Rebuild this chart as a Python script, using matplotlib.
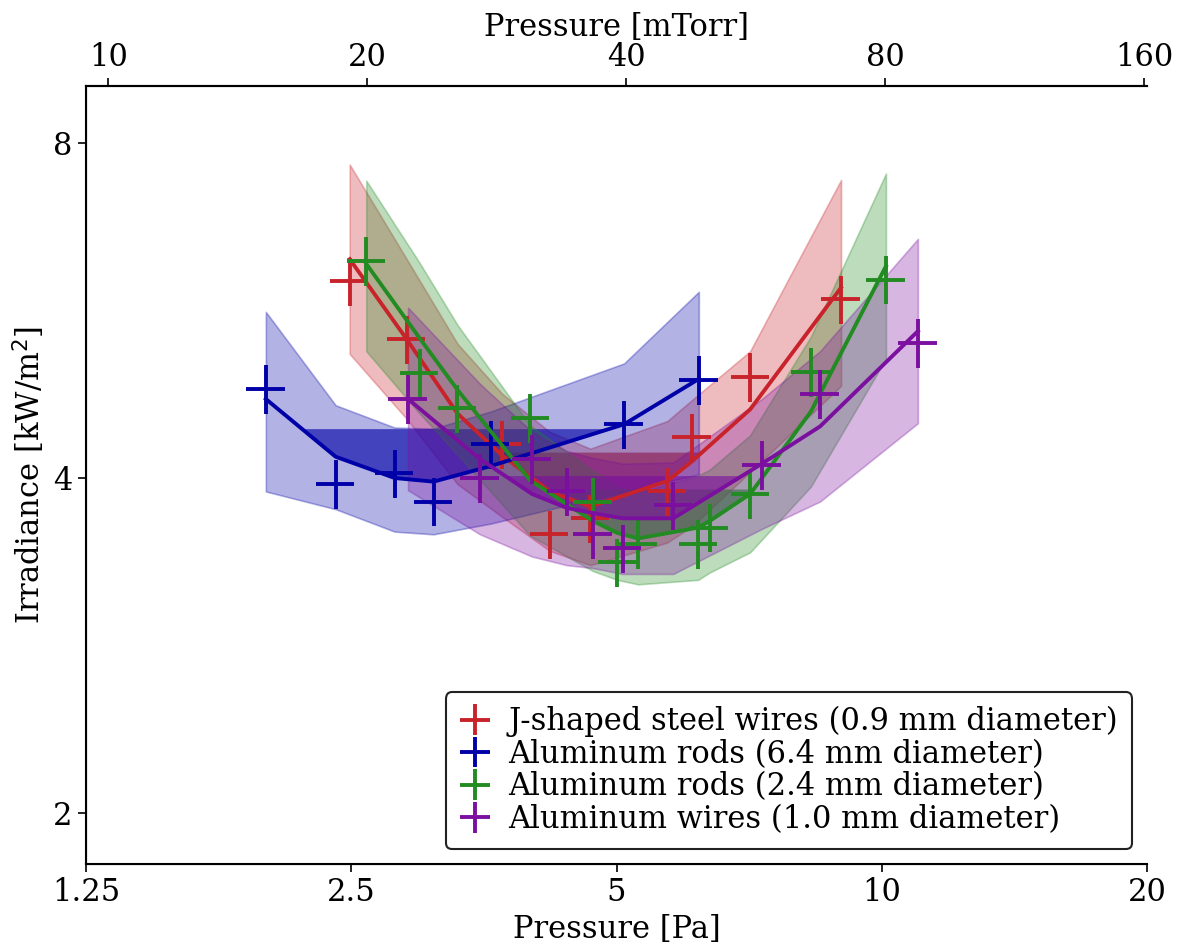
import numpy as np
import matplotlib
matplotlib.use("Agg")
import matplotlib.pyplot as plt
from matplotlib.ticker import FixedLocator, NullLocator, FixedFormatter

plt.rcParams['font.family'] = 'DejaVu Serif'
plt.rcParams['font.size'] = 22

# --- J-shaped steel wires (0.9 mm) ---
red_p = [2.49, 2.89, 3.30, 3.71, 4.20, 4.67, 5.71, 6.09, 7.09, 8.99]
red_q = [6.01, 5.33, 4.62, 4.29, 3.56, 3.68, 3.89, 4.35, 4.93, 5.79]
red_fit = [6.29, 5.33, 4.57, 4.19, 3.89, 3.77, 3.975, 4.14, 4.61, 5.93]
red_hi = [7.65, 6.29, 5.28, 4.76, 4.40, 4.25, 4.50, 4.70, 5.20, 7.41]
red_lo = [5.17, 4.52, 3.95, 3.69, 3.44, 3.34, 3.50, 3.62, 4.05, 4.84]
red_lvl = 4.22

# --- Aluminum rods (6.4 mm) ---
blue_p = [2.00, 2.40, 2.80, 3.10, 3.60, 5.10, 6.20]
blue_q = [4.81, 3.95, 4.04, 3.81, 4.29, 4.47, 4.90]
blue_fit = [4.71, 4.18, 4.00, 3.97, 4.10, 4.47, 4.91]
blue_hi = [5.64, 4.65, 4.44, 4.43, 4.59, 5.07, 5.88]
blue_lo = [3.89, 3.75, 3.58, 3.56, 3.64, 3.89, 4.03]
blue_lvl = 4.43

# --- Aluminum rods (2.4 mm) ---
green_p = [2.60, 2.99, 3.30, 3.99, 4.70, 5.01, 5.29, 6.19, 6.38, 7.09, 8.31, 10.11]
green_q = [6.27, 4.97, 4.62, 4.53, 3.81, 3.36, 3.49, 3.49, 3.61, 3.87, 4.98, 6.03]
green_fit = [6.23, 5.34, 4.80, 3.98, 3.66, 3.57, 3.53, 3.61, 3.66, 3.87, 4.59, 6.20]
green_hi = [7.40, 6.24, 5.49, 4.46, 4.06, 3.93, 3.88, 4.02, 4.07, 4.37, 5.36, 7.51]
green_lo = [5.20, 4.57, 4.20, 3.55, 3.30, 3.24, 3.21, 3.24, 3.29, 3.43, 3.93, 5.12]
green_lvl = 3.91

# --- Aluminum wires (1.0 mm) ---
purple_p = [2.90, 3.50, 4.01, 4.39, 4.70, 5.08, 5.80, 7.31, 8.51, 10.99]
purple_q = [4.71, 4.00, 4.16, 3.89, 3.56, 3.46, 3.78, 4.11, 4.76, 5.29]
purple_fit = [4.71, 4.16, 3.87, 3.76, 3.72, 3.68, 3.68, 4.12, 4.45, 5.42]
purple_hi = [5.69, 4.86, 4.40, 4.23, 4.17, 4.12, 4.13, 4.71, 5.20, 6.56]
purple_lo = [3.90, 3.56, 3.40, 3.34, 3.32, 3.28, 3.28, 3.60, 3.81, 4.48]
purple_lvl = 4.02

labels = ['J-shaped steel wires (0.9 mm diameter)',
          'Aluminum rods (6.4 mm diameter)',
          'Aluminum rods (2.4 mm diameter)',
          'Aluminum wires (1.0 mm diameter)']
colors = ['#c8232b', '#0000a8', '#228b22', '#7b0f9f']
rel_err = 0.05

series = [
    (red_p, red_q, red_fit, red_hi, red_lo, red_lvl),
    (blue_p, blue_q, blue_fit, blue_hi, blue_lo, blue_lvl),
    (green_p, green_q, green_fit, green_hi, green_lo, green_lvl),
    (purple_p, purple_q, purple_fit, purple_hi, purple_lo, purple_lvl),
]

fig = plt.figure(figsize=(11.84, 9.46), dpi=100)
ax = fig.add_axes([0.0726, 0.0867, 0.8962, 0.8224])
ax.set_xscale('log')
ax.set_yscale('log')

for (p, q, fit, hi, lo, lvl), col, lab in zip(series, colors, labels):
    p = np.array(p); q = np.array(q); fit = np.array(fit)
    ax.fill_between(p, lo, hi, color=col, alpha=0.3, lw=1.2)
    ax.fill_between(p, fit, lvl, where=fit < lvl, interpolate=True,
                    color=col, alpha=0.62, lw=0)
    ax.plot(p, fit, color=col, lw=2.8)
    ax.errorbar(p, q, xerr=rel_err * p, yerr=rel_err * q, fmt='none',
                ecolor=col, elinewidth=2.8, capsize=0, label=lab)

ax.set_xlim(1.25, 20)
ax.set_ylim(1.8, 9.0)
xt = [1.25, 2.5, 5, 10, 20]
ax.xaxis.set_major_locator(FixedLocator(xt))
ax.xaxis.set_major_formatter(FixedFormatter(['1.25', '2.5', '5', '10', '20']))
ax.xaxis.set_minor_locator(NullLocator())
yt = [2, 4, 8]
ax.yaxis.set_major_locator(FixedLocator(yt))
ax.yaxis.set_major_formatter(FixedFormatter(['2', '4', '8']))
ax.yaxis.set_minor_locator(NullLocator())
ax.tick_params(length=6, width=1.2)
ax.spines['right'].set_visible(False)
for s in ['left', 'bottom', 'top']:
    ax.spines[s].set_linewidth(1.5)
ax.set_xlabel('Pressure [Pa]')
ax.set_ylabel('Irradiance [kW/m$^2$]')

top = ax.twiny()
top.set_xscale('log')
top.set_xlim(9.42, 161.1)
tt = [10, 20, 40, 80, 160]
top.xaxis.set_major_locator(FixedLocator(tt))
top.xaxis.set_major_formatter(FixedFormatter([str(t) for t in tt]))
top.xaxis.set_minor_locator(NullLocator())
top.tick_params(length=6, width=1.2)
top.spines['right'].set_visible(False)
top.spines['top'].set_linewidth(1.5)
top.set_xlabel('Pressure [mTorr]')

leg = ax.legend(loc='lower right', fontsize=22, framealpha=1,
                edgecolor='#222222', handlelength=1.0, handletextpad=0.6,
                labelspacing=0.05, borderpad=0.45)
leg.get_frame().set_linewidth(1.5)

fig.savefig('out.png', dpi=100)
